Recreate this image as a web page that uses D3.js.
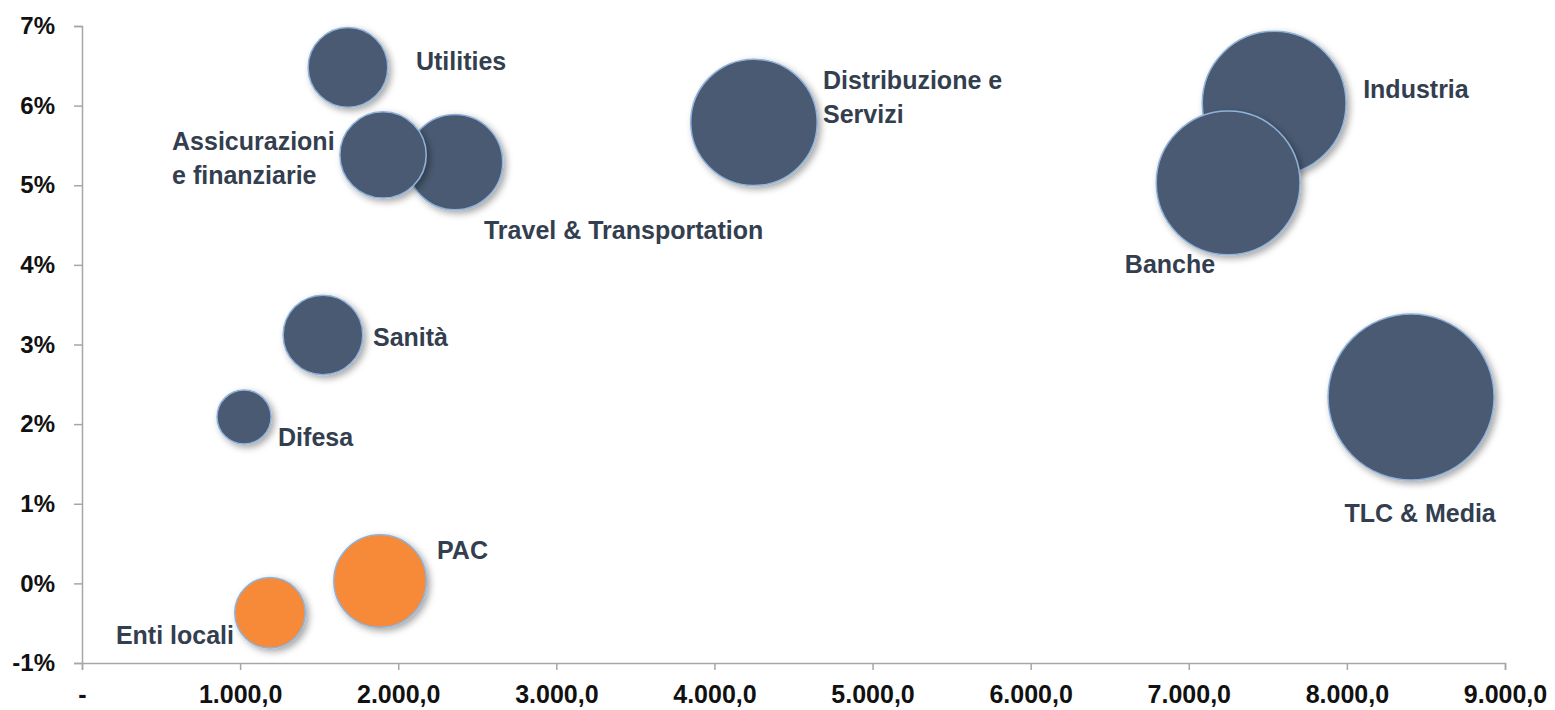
<!DOCTYPE html>
<html>
<head>
<meta charset="utf-8">
<script src="https://cdn.jsdelivr.net/npm/d3@7"></script>
<style>
  body { margin: 0; background: #fff; overflow: hidden; }
  svg { display: block; }
  .tick text { font-family: "Liberation Sans", Arial, sans-serif; font-weight: bold; fill: #111; }
</style>
</head>
<body>
<div id="chart"></div>
<script>
// data
let sectors = ["Utilities", "Assicurazioni e finanziarie", "Travel & Transportation", "Distribuzione e Servizi",
	"Industria", "Banche", "TLC & Media", "Sanità", "Difesa", "PAC", "Enti locali"]
let spend = [1682, 1904, 2359, 4250, 7540, 7249, 8406, 1524, 1025, 1885, 1189]
let growth = [6.48, 5.38, 5.29, 5.79, 6.03, 5.03, 2.34, 3.12, 2.09, 0.03, -0.37]
let size = [23, 27, 33, 58, 75, 75, 100, 23, 10.6, 31, 18]
let isPublic = [false, false, false, false, false, false, false, false, false, true, true]
let xTicks = [0, 1000, 2000, 3000, 4000, 5000, 6000, 7000, 8000, 9000]
let yTicks = [-1, 0, 1, 2, 3, 4, 5, 6, 7]

// label placement: [dx, dy, anchor] relative to bubble centre, lines split by "|"
let labelLines = ["Utilities", "Assicurazioni|e finanziarie", "Travel & Transportation", "Distribuzione e|Servizi",
	"Industria", "Banche", "TLC & Media", "Sanità", "Difesa", "PAC", "Enti locali"]
let labelPos = [[68, -4, "start"], [-211, -12, "start"], [29, 70, "start"], [69, -40, "start"],
	[89, -12, "start"], [-13, 83, "end"], [9, 118, "middle"], [50, 4, "start"], [34, 22, "start"],
	[57, -29, "start"], [-36, 24, "end"]]

let margin = { top: 26, right: 50, bottom: 47, left: 82 },
	w = 1555 - margin.left - margin.right,
	h = 710 - margin.top - margin.bottom;

let svg = d3.select("#chart")
	.append("svg")
	.attr("width", 1555)
	.attr("height", 710)

let defs = svg.append("defs")
let f = defs.append("filter").attr("id", "shadow")
	.attr("x", "-20%").attr("y", "-20%").attr("width", "150%").attr("height", "150%")
f.append("feDropShadow")
	.attr("dx", 3).attr("dy", 3).attr("stdDeviation", 3.5)
	.attr("flood-color", "#000").attr("flood-opacity", 0.35)

let g = svg.append("g")
	.attr("transform", "translate(" + margin.left + "," + margin.top + ")");

let x = d3.scaleLinear().domain([0, 9000]).range([0, w])
let y = d3.scaleLinear().domain([-1, 7]).range([h, 0])
let r = d3.scaleSqrt().domain([0, 100]).range([0, 83])

let fmtX = function (d) {
	if (d === 0) return "-"
	return d3.format(",.1f")(d).replace(/,/g, "#").replace(".", ",").replace(/#/g, ".")
}

// X axis
let xa = g.append("g")
	.attr("transform", "translate(0," + h + ")")
	.call(d3.axisBottom(x).tickValues(xTicks).tickFormat(fmtX).tickSize(7).tickPadding(15))
xa.selectAll("text").style("font-size", "25px")

// Y axis
let ya = g.append("g")
	.call(d3.axisLeft(y).tickValues(yTicks).tickFormat(function (d) { return d + "%" }).tickSize(8).tickPadding(19))
ya.selectAll("text").style("font-size", "24px")

g.selectAll(".domain, .tick line").attr("stroke", "#a6a6a6").attr("stroke-width", 1.5)

let data = sectors.map(function (s, i) {
	return { name: s, x: spend[i], y: growth[i], size: size[i], pub: isPublic[i], lines: labelLines[i].split("|"), pos: labelPos[i] }
})

// bubbles, largest first so small ones sit on top
g.append("g")
	.selectAll("circle")
	.data(data.slice().sort(function (a, b) { return b.size - a.size }))
	.enter().append("circle")
	.attr("cx", function (d) { return x(d.x) })
	.attr("cy", function (d) { return y(d.y) })
	.attr("r", function (d) { return r(d.size) })
	.attr("fill", function (d) { return d.pub ? "#f68a38" : "#4a5a72" })
	.attr("stroke", "#8fb2da")
	.attr("stroke-width", 1.5)
	.attr("filter", "url(#shadow)")

// labels
let lab = g.append("g")
	.selectAll("text")
	.data(data)
	.enter().append("text")
	.attr("x", function (d) { return x(d.x) + d.pos[0] })
	.attr("y", function (d) { return y(d.y) + d.pos[1] })
	.attr("text-anchor", function (d) { return d.pos[2] })
	.attr("dominant-baseline", "middle")
	.style("font-family", "'Liberation Sans', Arial, sans-serif")
	.style("font-weight", "bold")
	.style("font-size", "25px")
	.attr("fill", "#333e4f")

lab.selectAll("tspan")
	.data(function (d) { return d.lines.map(function (l, i) { return { t: l, i: i, d: d } }) })
	.enter().append("tspan")
	.attr("x", function (o) { return x(o.d.x) + o.d.pos[0] })
	.attr("dy", function (o) { return o.i === 0 ? 0 : 34 })
	.text(function (o) { return o.t })
</script>
</body>
</html>
